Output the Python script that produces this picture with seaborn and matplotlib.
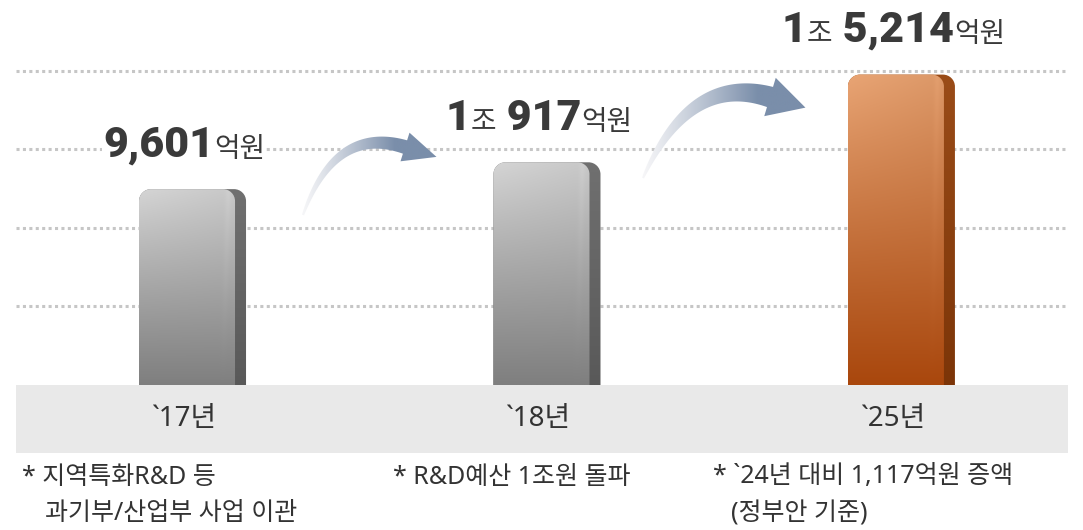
import numpy as np
import matplotlib
matplotlib.use("Agg")
import matplotlib.pyplot as plt
import seaborn as sns
from matplotlib.path import Path
from matplotlib.patches import PathPatch
from matplotlib.offsetbox import TextArea, HPacker, AnnotationBbox
from matplotlib.colors import to_rgb

# ---------------- data ----------------
YEARS = ["`17년", "`18년", "`25년"]
VALUES = [9601, 10917, 15214]          # 억원
NOTES_LINE1 = ["* 지역특화R&D 등", "* R&D예산 1조원 돌파", "* `24년 대비 1,117억원 증액"]
NOTES_LINE2 = ["과기부/산업부 사업 이관", "", "(정부안 기준)"]

# ---------------- style ----------------
W, H = 1083, 530
KR = ["Noto Sans CJK KR", "DejaVu Sans"]
MIX = ["Noto Sans", "Noto Sans CJK KR", "DejaVu Sans"]
NUM = ["Roboto", "DejaVu Sans"]
TXT = "#3a3a3a"
sns.set_theme(style="white")
plt.rcParams["font.family"] = KR

Y_MAX, Y_MIN = 18870, -3330
GRID_STEP = 3850
BAR_W = 0.302

fig = plt.figure(figsize=(W / 100, H / 100), dpi=100)
ax = fig.add_axes([16 / W, (H - 453) / H, (1068 - 16) / W, 453 / H])
ov = fig.add_axes([0, 0, 1, 1], zorder=5)

sns.barplot(x=YEARS, y=VALUES, ax=ax, width=BAR_W, color="#999999", saturation=1)
bar_patches = list(ax.patches)
ax.set_xlim(-0.498, 2.470)
ax.set_ylim(Y_MIN, Y_MAX)
ax.set_yticks([GRID_STEP * k for k in (1, 2, 3, 4)])
ax.grid(axis="y", color="#c6c6c6", linestyle=(0, (1, 1.1)), linewidth=2.2)
ax.grid(axis="x", visible=False)
ax.set_axisbelow(True)
ax.tick_params(length=0, labelleft=False, labelbottom=False)
ax.set_xlabel("")
ax.set_ylabel("")
for sp in ax.spines.values():
    sp.set_visible(False)
ax.axhspan(Y_MIN, 0, color="#e9e9e9", zorder=0.5, lw=0)

ov.set_xlim(0, W)
ov.set_ylim(H, 0)
ov.axis("off")


def rtop_path(x0, x1, ytop, ybot, r):
    k = 0.5523 * r
    verts = [(x0, ybot), (x0, ytop + r), (x0, ytop + r - k), (x0 + r - k, ytop), (x0 + r, ytop),
             (x1 - r, ytop), (x1 - r + k, ytop), (x1, ytop + r - k), (x1, ytop + r),
             (x1, ybot), (x0, ybot)]
    codes = [Path.MOVETO, Path.LINETO, Path.CURVE4, Path.CURVE4, Path.CURVE4, Path.LINETO,
             Path.CURVE4, Path.CURVE4, Path.CURVE4, Path.LINETO, Path.CLOSEPOLY]
    return Path(verts, codes)


def grad_fill(path, x0, x1, y0, y1, img, z):
    patch = PathPatch(path, transform=ov.transData, fc="none", ec="none")
    ov.add_patch(patch)
    im = ov.imshow(img, extent=[x0, x1, y1, y0], origin="upper", aspect="auto",
                   zorder=z, interpolation="bilinear")
    im.set_clip_path(patch)


def bar_img(top, bot, n=200, m=60, hl=True):
    t = np.linspace(0, 1, n)[:, None, None]
    s = np.linspace(0, 1, m)[None, :, None]
    top = np.array(to_rgb(top))[None, None, :]
    bot = np.array(to_rgb(bot))[None, None, :]
    img = top + (bot - top) * t
    if hl:
        img = img + 0.05 * (1 - s) * (1 - t) ** 2
        streak = np.exp(-((s - 0.93 + 0.06 * t) / 0.03) ** 2) * 0.025 * (1 - t)
        img = img + streak
    return np.clip(img, 0, 1)


FACE = [("#c8c8c8", "#7f7f7f"), ("#c8c8c8", "#7f7f7f"), ("#dc9868", "#a9470d")]
SIDE = [("#707070", "#595959"), ("#707070", "#595959"), ("#9a4c18", "#7c3508")]

for i, p in enumerate(bar_patches):
    x0d, wd, hd = p.get_x(), p.get_width(), p.get_height()
    (dx0, dy0), (dx1, dy1) = ax.transData.transform([(x0d, 0), (x0d + wd, hd)])
    px0, px1 = dx0, dx1
    pbot, ptop = H - dy0, H - dy1
    p.set_visible(False)
    total = px1 - px0
    fx1 = px0 + total * 96 / 107
    r = 12
    grad_fill(rtop_path(px0, px1, ptop, pbot, r), px0, px1, ptop, pbot,
              bar_img(*SIDE[i], hl=False), 2)
    grad_fill(rtop_path(px0, fx1, ptop, pbot, r), px0, fx1, ptop, pbot,
              bar_img(*FACE[i]), 3)

# ---------------- value labels ----------------
for i, v in enumerate(VALUES):
    jo, rest = divmod(v, 10000)
    parts = []
    if jo:
        parts.append((str(jo), "num"))
        parts.append(("조", "kr"))
        parts.append((" " + f"{rest:,}", "num"))
    else:
        parts.append((f"{rest:,}", "num"))
    parts.append(("억원", "kr"))
    kids = []
    for txt, kind in parts:
        if kind == "num":
            tp = dict(fontsize=31, fontweight="black", family=NUM, color=TXT)
        else:
            tp = dict(fontsize=20, fontweight="normal", family=KR, color=TXT)
        kids.append(TextArea(txt, textprops=tp))
    pack = HPacker(children=kids, align="baseline", pad=0, sep=0)
    ab = AnnotationBbox(pack, (i, v), xycoords="data", xybox=(-6, 17),
                        boxcoords="offset points", box_alignment=(0.5, 0),
                        frameon=True, pad=0.05,
                        bboxprops=dict(fc="white", ec="none"))
    ab.set_zorder(6)
    ax.add_artist(ab)

# ---------------- category labels ----------------
for i, lab in enumerate(YEARS):
    ax.annotate(lab, xy=(i, 0.075), xycoords=("data", "axes fraction"),
                xytext=(-6, 0), textcoords="offset points",
                ha="center", va="center", fontsize=20, color="#333333", family=MIX)

# ---------------- arrows ----------------
ARROW_COLOR = "#7a8eaa"


def arrow(P0, C, P1, w0, w1, hw, L):
    P0, C, P1 = map(np.array, (P0, C, P1))
    t = np.linspace(0, 1, 80)[:, None]
    B = (1 - t) ** 2 * P0 + 2 * t * (1 - t) * C + t ** 2 * P1
    D = 2 * (1 - t) * (C - P0) + 2 * t * (P1 - C)
    D = D / np.linalg.norm(D, axis=1, keepdims=True)
    N = np.stack([D[:, 1], -D[:, 0]], axis=1)
    w = (w0 + (w1 - w0) * t ** 0.8) / 2
    outer = B + N * w
    inner = B - N * w
    dE, nE = D[-1], N[-1]
    head = [P1 + nE * hw, P1 + dE * L, P1 - nE * hw]
    pts = np.vstack([outer, head, inner[::-1]])
    codes = [Path.MOVETO] + [Path.LINETO] * (len(pts) - 1)
    path = Path(pts, codes)
    xs0, xs1 = pts[:, 0].min() - 2, pts[:, 0].max() + 2
    ys0, ys1 = pts[:, 1].min() - 2, pts[:, 1].max() + 2
    m = 300
    s = np.linspace(xs0, xs1, m)
    frac = np.clip((s - P0[0]) / (0.9 * (P1[0] - P0[0])), 0, 1) ** 1.1
    c0 = np.array(to_rgb("#f6f6f8"))
    c1 = np.array(to_rgb(ARROW_COLOR))
    row = c0[None, :] + (c1 - c0)[None, :] * frac[:, None]
    img = np.repeat(row[None, :, :], 4, axis=0)
    grad_fill(path, xs0, xs1, ys0, ys1, img, 4)


arrow((303, 215), (335, 125), (405, 147), 2, 14, 15, 33)
arrow((643, 178), (690, 73), (770, 97), 2, 21, 20, 37)

ov.set_xlim(0, W)
ov.set_ylim(H, 0)

# ---------------- footnotes ----------------
NOTE_X1 = [22, 393, 713]
NOTE_X2 = [45, 393, 731]
for x1, x2, l1, l2 in zip(NOTE_X1, NOTE_X2, NOTES_LINE1, NOTES_LINE2):
    fig.text(x1 / W, 1 - 477 / H, l1, ha="left", va="center", fontsize=18,
             color="#333333", family=MIX)
    if l2:
        fig.text(x2 / W, 1 - 514 / H, l2, ha="left", va="center", fontsize=18,
                 color="#333333", family=MIX)

fig.savefig("out.png", dpi=100, facecolor="white")
